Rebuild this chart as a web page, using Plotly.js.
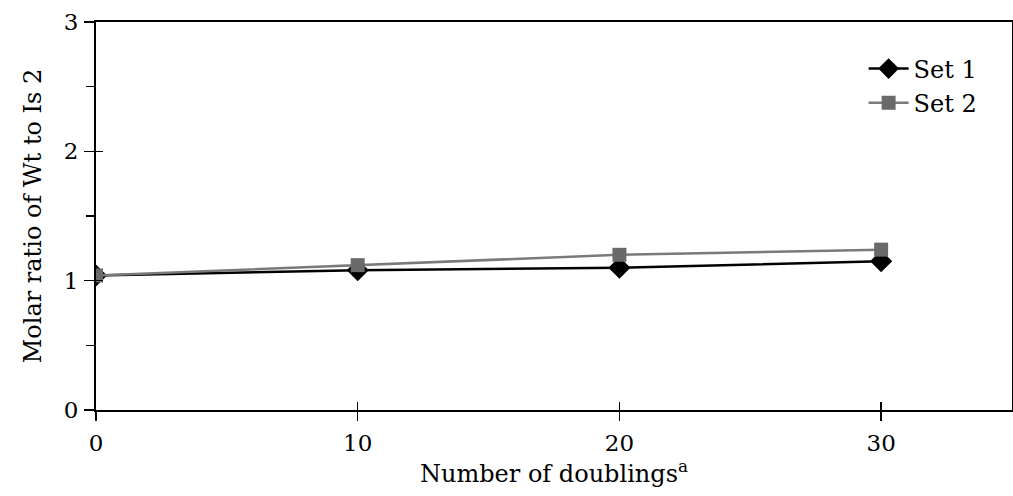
<!DOCTYPE html>
<html>
<head>
<meta charset="utf-8">
<script src="https://cdn.plot.ly/plotly-3.0.1.min.js"></script>
<style>html,body{margin:0;padding:0;background:#fff;}#chart{width:1013px;height:496px;}</style>
</head>
<body>
<div id="chart"></div>
<script>
const doublings = [0, 10, 20, 30];
const set1 = [1.04, 1.08, 1.10, 1.15];
const set2 = [1.04, 1.12, 1.20, 1.24];
const seriesNames = ["Set 1", "Set 2"];
const xTicks = [0, 10, 20, 30];
const yTicks = [0, 1, 2, 3];

const font = {family: "DejaVu Serif", color: "#000"};

const traces = [
  {
    x: doublings, y: set1, name: seriesNames[0], type: "scatter", mode: "lines+markers",
    line: {color: "#000", width: 2.5},
    marker: {symbol: "diamond", size: 17, color: "#000"}
  },
  {
    x: doublings, y: set2, name: seriesNames[1], type: "scatter", mode: "lines+markers",
    line: {color: "#7a7a7a", width: 2.5},
    marker: {symbol: "square", size: 14, color: "#6a6a6a"}
  }
];

const layout = {
  width: 1013, height: 496,
  margin: {l: 96, r: 1, t: 22, b: 86},
  paper_bgcolor: "#fff", plot_bgcolor: "#fff",
  font: Object.assign({size: 24}, font),
  showlegend: true,
  legend: {
    x: 0.838, y: 0.937, xanchor: "left", yanchor: "top",
    bgcolor: "rgba(0,0,0,0)", borderwidth: 0,
    font: Object.assign({size: 24}, font),
    itemwidth: 40, tracegroupgap: 0
  },
  xaxis: {
    range: [0, 35], tickvals: xTicks, ticktext: xTicks.map(String),
    showgrid: false, zeroline: false, showline: true, linecolor: "#000", linewidth: 2,
    mirror: true, ticks: "outside", ticklen: 9, tickwidth: 1.5, tickcolor: "#000",
    ticklabelstandoff: 2,
    tickfont: Object.assign({size: 23}, font),
    title: {text: "Number of doublings<sup>a</sup>", font: Object.assign({size: 24}, font), standoff: 4}
  },
  xaxis2: {
    range: [0, 35], overlaying: "x", tickvals: xTicks, showticklabels: false,
    showgrid: false, zeroline: false, showline: false,
    ticks: "inside", ticklen: 8, tickwidth: 1.5, tickcolor: "#000", anchor: "y"
  },
  yaxis: {
    range: [0, 3], tickvals: yTicks, ticktext: yTicks.map(String),
    showgrid: false, zeroline: false, showline: true, linecolor: "#000", linewidth: 2,
    mirror: true, ticks: "outside", ticklen: 10, tickwidth: 1.5, tickcolor: "#000",
    ticklabelstandoff: 1,
    minor: {dtick: 0.5, ticks: "outside", ticklen: 8, tickwidth: 1.5, tickcolor: "#000", showgrid: false},
    tickfont: Object.assign({size: 23}, font),
    title: {text: "Molar ratio of Wt to Is 2", font: Object.assign({size: 24}, font), standoff: 15}
  },
  yaxis2: {
    range: [0, 3], overlaying: "y", tickvals: yTicks, showticklabels: false,
    showgrid: false, zeroline: false, showline: false,
    ticks: "inside", ticklen: 7, tickwidth: 1.5, tickcolor: "#000", anchor: "x"
  }
};

const helper = {x: [null], y: [null], xaxis: "x2", yaxis: "y2", showlegend: false, hoverinfo: "skip", type: "scatter", mode: "lines"};

Plotly.newPlot("chart", traces.concat([helper]), layout, {staticPlot: true, displayModeBar: false});
</script>
</body>
</html>
